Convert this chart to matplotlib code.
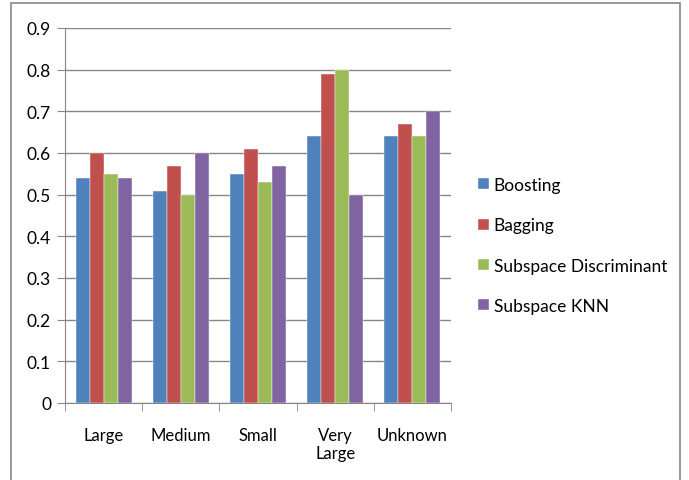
import numpy as np
import matplotlib
matplotlib.use("Agg")
from matplotlib import pyplot as plt
from matplotlib.patches import Rectangle

plt.rcParams['font.family'] = ['Lato', 'DejaVu Sans']

categories = ['Large', 'Medium', 'Small', 'Very\nLarge', 'Unknown']
series_names = ['Boosting', 'Bagging', 'Subspace Discriminant', 'Subspace KNN']
boosting = [0.54, 0.51, 0.55, 0.64, 0.64]
bagging = [0.60, 0.57, 0.61, 0.79, 0.67]
subspace_disc = [0.55, 0.50, 0.53, 0.80, 0.64]
subspace_knn = [0.54, 0.60, 0.57, 0.50, 0.70]

colors = ['#4F81BD', '#C0504D', '#9BBB59', '#8064A2']
values = [boosting, bagging, subspace_disc, subspace_knn]

fig = plt.figure(figsize=(6.89, 4.81), dpi=100)
ax = fig.add_axes([65 / 689, 1 - 404 / 481, (451 - 65) / 689, (404 - 29) / 481])

# outer chart border (bottom edge runs off the image)
fig.patches.append(Rectangle((11 / 689, -0.05), (680 - 11) / 689, 1.05 - 4 / 481,
                             transform=fig.transFigure, fill=False,
                             edgecolor='#868686', linewidth=1.2))

x = np.arange(len(categories))
w = 1 / 5.5
for i, (name, vals) in enumerate(zip(series_names, values)):
    ax.bar(x + (i - 1.5) * w, vals, width=w, color=colors[i], label=name,
           edgecolor='white', linewidth=0.3, zorder=3)

ax.set_xlim(-0.5, len(categories) - 0.5)
ax.set_ylim(0, 0.9)
ax.set_yticks(np.arange(0, 0.91, 0.1))
ax.set_yticklabels(['0'] + [f'{v:.1f}' for v in np.arange(0.1, 0.91, 0.1)])
ax.yaxis.grid(True, color='#868686', linewidth=1.0, zorder=0)

ax.set_xticks(x)
ax.set_xticklabels(categories, fontsize=12)
ax.set_xticks(np.arange(-0.5, len(categories), 1), minor=True)
ax.tick_params(axis='x', which='major', length=0, pad=17)
ax.tick_params(axis='x', which='minor', length=6, color='#868686')
ax.tick_params(axis='y', length=6, color='#868686', labelsize=12.5, pad=4)

for s in ['top', 'right']:
    ax.spines[s].set_visible(False)
for s in ['left', 'bottom']:
    ax.spines[s].set_color('#868686')

ax.legend(loc='center left', bbox_to_anchor=(1.03, 0.42), frameon=False,
          fontsize=12.5, handlelength=0.6, handleheight=0.6,
          handletextpad=0.3, labelspacing=1.4)

fig.savefig('out.png', dpi=100)
